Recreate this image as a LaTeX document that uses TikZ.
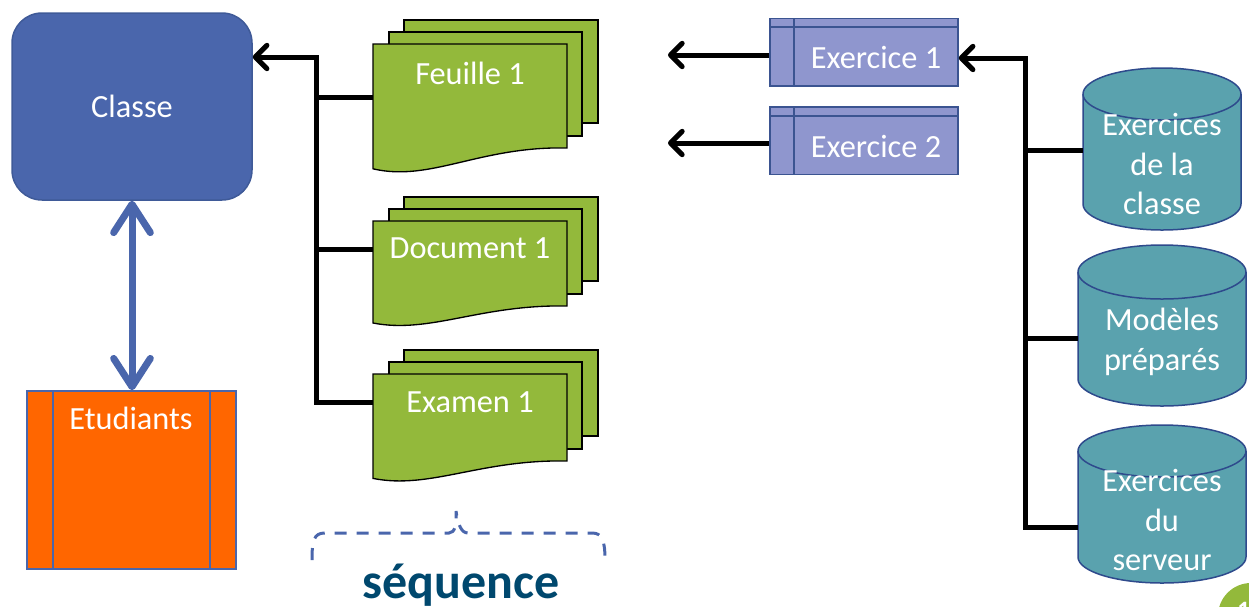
\documentclass[tikz,border=0pt]{standalone}
\usepackage{fontspec}
\setmainfont{Carlito}
\usetikzlibrary{arrows.meta,fit}
\definecolor{classeblue}{HTML}{4A66AC}
\definecolor{classeborder}{HTML}{3F5A98}
\definecolor{etuorange}{HTML}{FF6600}
\definecolor{exfill}{HTML}{8F96CE}
\definecolor{exborder}{HTML}{3B5491}
\definecolor{cylfill}{HTML}{5AA2AE}
\definecolor{cylborder}{HTML}{2E4A8C}
\definecolor{docgreen}{HTML}{93B93B}
\definecolor{seqblue}{HTML}{00486E}

\tikzset{
 lbl/.style={text=white, font=\fontsize{19.4}{23.6}\selectfont, align=center, inner sep=0pt},
 classebox/.style={draw=classeborder, fill=classeblue, line width=0.9pt, rounded corners=18pt, minimum width=144pt, minimum height=112.2pt, inner sep=0pt},
 etubox/.style={draw=classeblue, fill=etuorange, line width=0.9pt, minimum width=125.4pt, minimum height=106.8pt, inner sep=0pt},
 exbox/.style={draw=exborder, fill=exfill, line width=0.9pt, minimum width=112.8pt, minimum height=40.5pt, inner sep=0pt},
 exline/.style={draw=exborder, line width=0.9pt},
 docsheet/.style={draw=black, fill=docgreen, line width=0.8pt},
 cylbody/.style={draw=cylborder, fill=cylfill, line width=0.9pt},
 cylrim/.style={draw=cylborder, line width=0.9pt},
 conn/.style={draw=black, line width=3pt},
 blacktip/.style={-{Straight Barb[length=7pt,width=14pt,round]}},
 dblarrow/.style={draw=classeblue, line width=4.2pt, {Straight Barb[length=17pt,width=22pt,round]}-{Straight Barb[length=17pt,width=22pt,round]}},
 bracestyle/.style={draw=classeblue, line width=1.8pt, dash pattern=on 7.2pt off 6pt},
 anchorbox/.style={inner sep=0pt, outer sep=0pt},
}

% multi-document shape: #1 name, #2 front top, #3 front right bottom
\newcommand\multidoc[3]{%
 \pgfmathsetmacro\mdH{#3-#2}%
 \pgfmathsetmacro\mdL{#3+0.2*\mdH}%
 \pgfmathsetmacro\mdCa{#3-0.02*\mdH}%
 \pgfmathsetmacro\mdCb{#3+0.33*\mdH}%
 \filldraw[docsheet] (404,#2-24) rectangle (598,#3-25);
 \filldraw[docsheet] (389,#2-12) rectangle (582,#3-12);
 \filldraw[docsheet] (373,#2) -- (567,#2) -- (567,#3) .. controls (480,\mdCa) and (430,\mdCb) .. (373,\mdL) -- cycle;
 \node[anchorbox, fit={(373,#2) (567,\mdL)}] (#1) {};
}

% cylinder: #1 name, #2 L, #3 R, #4 T, #5 B, #6 ry
\newcommand\drawcyl[6]{%
 \pgfmathsetmacro\cylcx{(#2+#3)/2}%
 \pgfmathsetmacro\cylka{0.5523*(#3-#2)/2}%
 \pgfmathsetmacro\cylkr{0.5523*#6}%
 \filldraw[cylbody] (#2,#4+#6) -- (#2,#5-#6) .. controls (#2,#5-#6+\cylkr) and (\cylcx-\cylka,#5) .. (\cylcx,#5) .. controls (\cylcx+\cylka,#5) and (#3,#5-#6+\cylkr) .. (#3,#5-#6) -- (#3,#4+#6) .. controls (#3,#4+#6-\cylkr) and (\cylcx+\cylka,#4) .. (\cylcx,#4) .. controls (\cylcx-\cylka,#4) and (#2,#4+#6-\cylkr) .. cycle;
 \draw[cylrim] (#2,#4+#6) .. controls (#2,#4+#6+\cylkr) and (\cylcx-\cylka,#4+2*#6) .. (\cylcx,#4+2*#6) .. controls (\cylcx+\cylka,#4+2*#6) and (#3,#4+#6+\cylkr) .. (#3,#4+#6);
 \node[anchorbox, fit={(#2,#4) (#3,#5)}] (#1) {};
}

\begin{document}
\begin{tikzpicture}[x=0.6pt,y=-0.6pt]
\useasboundingbox (0,0) rectangle (1249,606);

% Classe
\node[classebox, text=white, font=\fontsize{19.4}{23.6}\selectfont] (classe) at (132,106.5) {Classe};

% Etudiants
\node[etubox] (etud) at (131.5,480) {};
\draw[draw=classeblue, line width=0.9pt] (53,391) -- (53,569) (210,391) -- (210,569);
\node[lbl] (etudtxt) at (131,418) {Etudiants};

\draw[dblarrow] (classe.south) -- (classe.south |- etud.north);

% documents
\multidoc{feuille}{44}{148}
\node[lbl] (feuilletxt) at (470,73) {Feuille 1};
\multidoc{document}{221}{306}
\node[lbl] (documenttxt) at (470,248) {Document 1};
\multidoc{examen}{374}{461}
\node[lbl] (examentxt) at (470,402) {Examen 1};

% Exercices
\node[exbox] (ex1) at (864,52) {};
\draw[exline] (770,27) -- (958,27) (794,18) -- (794,86);
\node[lbl] (ex1txt) at (876,57) {Exercice 1};
\node[exbox] (ex2) at (864,140.5) {};
\draw[exline] (770,116) -- (958,116) (794,107) -- (794,174);
\node[lbl] (ex2txt) at (876,146) {Exercice 2};

% cylinders
\drawcyl{exclasse}{1083}{1241}{68}{230}{26}
\node[lbl] (exclassetxt) at (1162,164) {Exercices\\de la\\classe};
\drawcyl{modeles}{1078}{1246}{245}{406}{27}
\node[lbl] (modelestxt) at (1162,342) {Modèles\\préparés};
\drawcyl{serveur}{1078}{1246}{425}{583}{26}
\node[lbl] (serveurtxt) at (1162,520) {Exercices\\du\\serveur};

% left connectors
\coordinate (ltop) at (316,57);
\coordinate (lbot) at (316,402);
\coordinate (lj1) at (316,97);
\coordinate (lj2) at (316,249);
\draw[conn, blacktip] (examen.west |- lbot) -- (lbot) -- (ltop) -- (classe.east |- ltop);
\draw[conn] (lj1) -- (feuille.west |- lj1);
\draw[conn] (lj2) -- (document.west |- lj2);

% exercice arrows
\coordinate (ex1out) at (668,55);
\coordinate (ex2out) at (668,143);
\draw[conn, blacktip] (ex1.west |- ex1out) -- (ex1out);
\draw[conn, blacktip] (ex2.west |- ex2out) -- (ex2out);

% right connectors
\coordinate (rtop) at (1025,58);
\coordinate (rbot) at (1025,527);
\coordinate (rj1) at (1025,150);
\coordinate (rj2) at (1025,338);
\draw[conn, blacktip] (serveur.west |- rbot) -- (rbot) -- (rtop) -- (ex1.east |- rtop);
\draw[conn] (rj1) -- (exclasse.west |- rj1);
\draw[conn] (rj2) -- (modeles.west |- rj2);

% brace and label
\draw[bracestyle] (312,560) .. controls (312,540) and (314,533) .. (325,533) -- (449,533) .. controls (455,533) and (457,524) .. (456,511) .. controls (458,524) and (461,533) .. (468,533) -- (592,533) .. controls (602,533) and (605,540) .. (605,560);
\node[anchor=base, text=seqblue, font=\fontsize{30}{36}\selectfont\bfseries, inner sep=0pt] (seq) at (461,598) {séquence};

% page number badge
\begin{scope}
\clip (0,0) rectangle (1249,606);
\fill[docgreen] (1251,616) circle[radius=19.8pt];
\node[text=white, font=\fontsize{15}{18}\selectfont\bfseries, inner sep=0pt] (pagenum) at (1250,610) {11};
\end{scope}
\end{tikzpicture}
\end{document}
